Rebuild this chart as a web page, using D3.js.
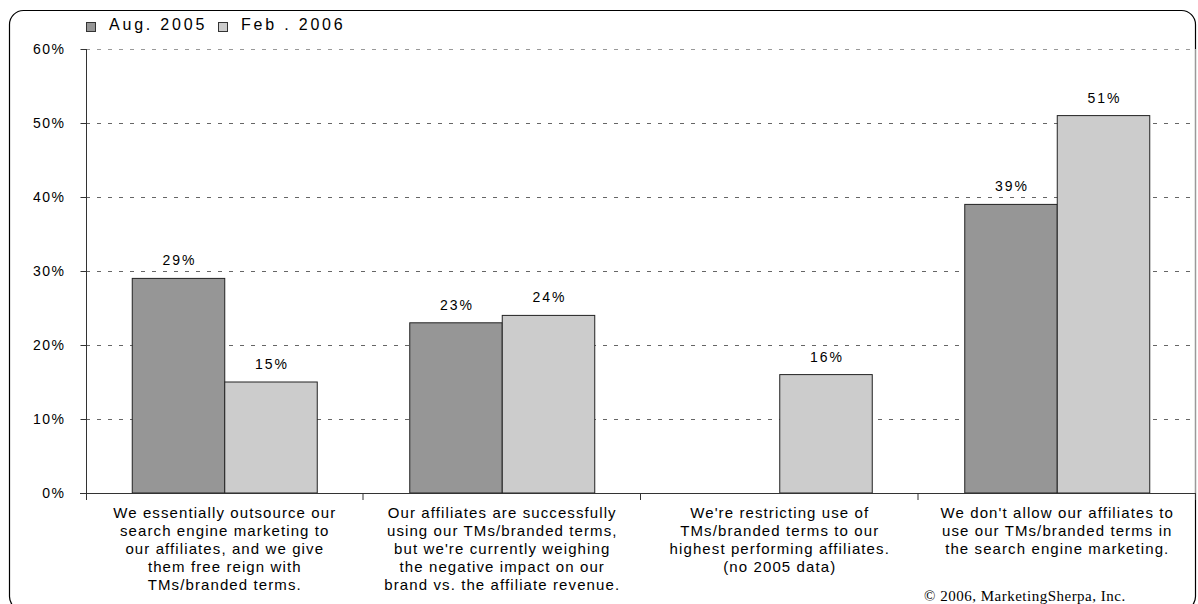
<!DOCTYPE html>
<html>
<head>
<meta charset="utf-8">
<script src="https://cdn.jsdelivr.net/npm/d3@7"></script>
<style>
  html, body { margin: 0; padding: 0; background: #fff; }
  svg { display: block; }
</style>
</head>
<body>
<svg id="chart" width="1198" height="604" font-family="Liberation Sans, Arial, sans-serif"></svg>
<script>
// Survey answers (one label per group, split into lines)
const categories = [
  ["We essentially outsource our", "search engine marketing to", "our affiliates, and we give", "them free reign with", "TMs/branded terms."],
  ["Our affiliates are successfully", "using our TMs/branded terms,", "but we're currently weighing", "the negative impact on our", "brand vs. the affiliate revenue."],
  ["We're restricting use of", "TMs/branded terms to our", "highest performing affiliates.", "(no 2005 data)"],
  ["We don't allow our affiliates to", "use our TMs/branded terms in", "the search engine marketing."]
];
const seriesNames = ["Aug. 2005", "Feb . 2006"];
const aug2005 = [29, 23, null, 39];
const feb2006 = [15, 24, 16, 51];
const yTicks = [0, 10, 20, 30, 40, 50, 60];
const seriesColors = ["#969696", "#cccccc"];

const svg = d3.select("#chart");

// rounded outer frame
svg.append("rect")
  .attr("x", 9.5).attr("y", 10.5)
  .attr("width", 1186).attr("height", 600)
  .attr("rx", 14).attr("ry", 14)
  .attr("fill", "none").attr("stroke", "#000").attr("stroke-width", 1.2);

const plot = { left: 86, right: 1196, top: 49, bottom: 493 };

const x = d3.scaleBand()
  .domain(d3.range(categories.length))
  .range([plot.left, plot.right])
  .paddingInner(0).paddingOuter(0);

const xSub = d3.scaleBand()
  .domain(d3.range(seriesNames.length))
  .range([0, x.bandwidth()])
  .paddingInner(0).paddingOuter(0.5);

const y = d3.scaleLinear().domain([0, 60]).range([plot.bottom, plot.top]);

// dashed gridlines
svg.append("g").selectAll("line")
  .data(yTicks.filter(d => d > 0))
  .join("line")
  .attr("x1", plot.left).attr("x2", plot.right)
  .attr("y1", d => Math.round(y(d)) + 0.5).attr("y2", d => Math.round(y(d)) + 0.5)
  .attr("stroke", d => d === 60 ? "#999" : "#666")
  .attr("stroke-width", 1)
  .attr("stroke-dasharray", "4,7");

// right edge of the plot area
svg.append("line")
  .attr("x1", plot.right - 0.5).attr("x2", plot.right - 0.5)
  .attr("y1", plot.top).attr("y2", plot.bottom)
  .attr("stroke", "#999");

// bars and their value labels
const series = [aug2005, feb2006];
series.forEach((vals, si) => {
  const pts = vals.map((v, i) => ({ v, i })).filter(d => d.v !== null);
  svg.append("g").selectAll("rect")
    .data(pts)
    .join("rect")
    .attr("x", d => x(d.i) + xSub(si))
    .attr("y", d => y(d.v))
    .attr("width", xSub.bandwidth())
    .attr("height", d => y(0) - y(d.v))
    .attr("fill", seriesColors[si])
    .attr("stroke", "#222")
    .attr("stroke-width", 1);

  svg.append("g").selectAll("text")
    .data(pts)
    .join("text")
    .attr("x", d => x(d.i) + xSub(si) + xSub.bandwidth() / 2 + 1)
    .attr("y", d => y(d.v) - 13)
    .attr("text-anchor", "middle")
    .attr("font-size", 14)
    .attr("letter-spacing", 2)
    .text(d => d.v + "%");
});

// y axis
const yAxis = d3.axisLeft(y)
  .tickValues(yTicks)
  .tickSize(6)
  .tickPadding(15)
  .tickFormat(d => d + "%");
const ya = svg.append("g")
  .attr("transform", `translate(${plot.left + 0.5},0)`)
  .call(yAxis);
ya.select(".domain").attr("stroke", "#333").attr("d", `M0,${plot.top}V${plot.bottom + 7}`);
ya.selectAll(".tick line").attr("stroke", "#333");
ya.selectAll(".tick text")
  .attr("font-family", "Liberation Sans, Arial, sans-serif")
  .attr("font-size", 14).attr("letter-spacing", 1.5).attr("fill", "#000");

// x axis baseline with group separators
svg.append("line")
  .attr("x1", plot.left - 6).attr("x2", plot.right)
  .attr("y1", plot.bottom + 0.5).attr("y2", plot.bottom + 0.5)
  .attr("stroke", "#333");
svg.append("g").selectAll("line")
  .data(d3.range(1, categories.length + 1))
  .join("line")
  .attr("x1", i => (i < categories.length ? x(i) : plot.right) - 0.5)
  .attr("x2", i => (i < categories.length ? x(i) : plot.right) - 0.5)
  .attr("y1", plot.bottom).attr("y2", plot.bottom + 7)
  .attr("stroke", "#333");

// category labels
const catG = svg.append("g").selectAll("text")
  .data(categories)
  .join("text")
  .attr("text-anchor", "middle")
  .attr("font-size", 15)
  .attr("letter-spacing", 1.1);
catG.selectAll("tspan")
  .data((lines, i) => lines.map(l => ({ l, i })))
  .join("tspan")
  .attr("x", d => x(d.i) + x.bandwidth() / 2)
  .attr("y", (d, k) => 518 + k * 18)
  .text(d => d.l);

// legend
const leg = svg.append("g");
const legX = [86, 218];
seriesNames.forEach((name, i) => {
  leg.append("rect")
    .attr("x", legX[i] + 0.5).attr("y", 22.5)
    .attr("width", 9).attr("height", 9)
    .attr("fill", seriesColors[i]).attr("stroke", "#333");
  leg.append("text")
    .attr("x", legX[i] + 23).attr("y", 30)
    .attr("font-size", 16)
    .attr("letter-spacing", 2.8)
    .text(name);
});

// copyright
svg.append("text")
  .attr("x", 924).attr("y", 601)
  .attr("font-family", "Liberation Serif, Times New Roman, serif")
  .attr("font-size", 15)
  .attr("letter-spacing", 0.5)
  .text("© 2006, MarketingSherpa, Inc.");
</script>
</body>
</html>
